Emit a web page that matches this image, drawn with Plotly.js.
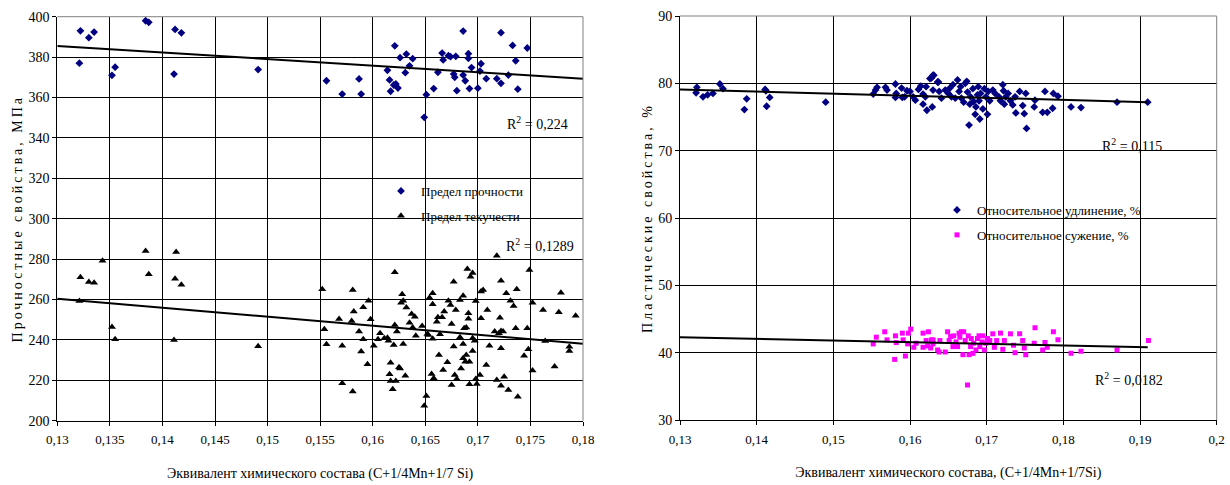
<!DOCTYPE html>
<html>
<head>
<meta charset="utf-8">
<script src="https://cdn.plot.ly/plotly-3.0.1.min.js"></script>
<style>html,body{margin:0;padding:0;background:#fff;}#chart{width:1230px;height:485px;}</style>
</head>
<body>
<div id="chart"></div>
<script>
// ---------- Left chart: strength properties ----------
const strengthX = [0.1322,0.1321,0.1330,0.1335,0.1352,0.1355,0.1384,0.1387,0.1412,0.1418,0.1411,0.1491,
0.1556,0.1571,0.1587,0.1589,0.1614,0.1621,0.1616,0.1617,0.1620,0.1622,0.1624,0.1626,0.1631,0.1632,0.1635,0.1638,
0.1649,0.1651,0.1658,0.1662,0.1666,0.1667,0.1672,0.1674,0.1679,0.1677,0.1678,0.1680,0.1686,0.1686,0.1688,0.1691,
0.1691,0.1692,0.1694,0.1700,0.1702,0.1703,0.1708,0.1718,0.1722,0.1722,0.1729,0.1733,0.1736,0.1738,0.1747];
const strengthY = [393,377,389.6,392.4,371,375,398,397.2,393.7,392,371.6,373.8,
368.3,361.7,369.2,361.7,373.5,385.6,368.7,363.1,366.2,366.7,364.7,379.7,372.3,381.5,375.7,379.2,
350.2,361.4,364.4,372.5,382,378.6,380.7,380.2,380.4,371.6,370,363.4,392.9,371.1,368.3,381.7,
379.4,364.4,374.8,364.6,373.1,376.7,369.3,369.3,392.1,367,371.1,385.8,378.2,364.1,384.5];

const yieldX = [0.1322,0.1321,0.1330,0.1335,0.1343,0.1352,0.1355,0.1384,0.1387,0.1413,0.1412,0.1418,0.1411,0.1491,
0.1552,0.1554,0.1556,0.1568,0.1571,0.1571,0.1580,0.1581,0.1582,0.1581,0.1587,0.1589,0.1591,0.1591,0.1595,0.1596,
0.1598,0.1601,0.1605,0.1607,0.1611,0.1614,0.1615,0.1616,0.1617,0.1617,0.1619,0.1620,0.1621,0.1621,0.1622,0.1623,
0.1625,0.1626,0.1627,0.1628,0.1629,0.1629,0.1631,0.1632,0.1635,0.1637,0.1638,0.1640,0.1641,0.1647,0.1649,0.1651,
0.1652,0.1653,0.1654,0.1656,0.1657,0.1657,0.1657,0.1658,0.1661,0.1662,0.1663,0.1664,0.1666,0.1667,0.1668,0.1671,
0.1672,0.1674,0.1675,0.1675,0.1677,0.1677,0.1678,0.1679,0.1680,0.1683,0.1683,0.1684,0.1686,0.1686,0.1686,0.1687,
0.1688,0.1689,0.1690,0.1689,0.1691,0.1691,0.1692,0.1692,0.1693,0.1695,0.1695,0.1695,0.1697,0.1698,0.1698,0.1699,
0.1702,0.1703,0.1703,0.1705,0.1708,0.1709,0.1711,0.1716,0.1718,0.1718,0.1720,0.1721,0.1722,0.1722,0.1722,0.1722,
0.1724,0.1725,0.1727,0.1729,0.1731,0.1734,0.1736,0.1737,0.1738,0.1744,0.1747,0.1748,0.1749,0.1752,0.1752,0.1762,
0.1764,0.1773,0.1777,0.1779,0.1787,0.1787,0.1793];
const yieldY = [271,259.3,268.7,268.3,279.2,246.4,240.3,284,272.5,283.5,270.3,267.3,240,236.9,
265.1,245.3,237.8,250.4,237.1,218.5,249.4,264.7,254,214.4,244.1,234.2,240.3,256.2,228,259.4,
250.2,237.1,240.3,243.3,240.8,241.1,239.6,223,228.7,219.7,215.6,237.5,273.5,247.4,219.7,244.1,
226.4,225.9,258.4,262.6,259.4,238,222.3,256,248.5,252.8,246.2,251.5,242.1,246.9,207.4,212.2,
242.9,242.4,260.9,223.1,263.1,257.6,240.6,221,249,251.2,232.5,242.8,251.2,225.1,254,228.9,
259.4,257.3,217.7,247.9,236.7,268.8,222.6,254.8,220.7,259.8,241.3,225.9,261.9,238,230.9,245.8,
229.2,232.5,275.1,246.2,253.2,250.5,218,229.2,271.3,273.1,240.8,234.5,239.6,220.7,259.3,218.2,
222.6,250.7,263.9,264.7,227.6,254.8,237.1,244.1,220.2,281.7,243.3,251,269.3,244.4,235.9,217.3,
244.1,221.8,263.1,215.2,259.4,256.8,245.8,265.1,211.9,232.1,245.8,235.4,274.6,258.4,224.8,254.8,
239.5,226.8,253.7,263.4,234.5,236.6,252];

// trend lines (start / end)
const strengthTrendX = [0.13, 0.18];
const strengthTrendY = [385.5, 369.3];
const yieldTrendX = [0.13, 0.18];
const yieldTrendY = [260.4, 238.1];

// ---------- Right chart: plastic properties ----------
const elongX = [0.1322,0.1321,0.1330,0.1336,0.1343,0.1352,0.1356,0.1384,0.1387,0.1411,0.1412,0.1413,0.1417,0.1490,
0.1552,0.1555,0.1557,0.1568,0.1570,0.1581,0.1581,0.1582,0.1589,0.1590,0.1593,0.1596,0.1600,0.1604,0.1607,0.1611,
0.1614,0.1617,0.1617,0.1620,0.1622,0.1621,0.1626,0.1629,0.1630,0.1630,0.1636,
0.1628,0.1631,0.1637,0.1638,0.1641,0.1646,0.1650,0.1652,0.1654,0.1656,0.1659,0.1662,0.1664,0.1666,0.1667,0.1670,
0.1672,0.1674,0.1675,0.1677,0.1678,0.1679,0.1682,0.1683,0.1685,0.1686,0.1688,0.1689,0.1690,0.1691,0.1692,0.1695,
0.1697,0.1699,0.1701,0.1702,0.1704,0.1708,0.1711,0.1716,0.1718,0.1721,0.1722,0.1723,0.1725,0.1728,0.1731,0.1734,
0.1737,0.1738,0.1743,0.1747,0.1749,0.1751,0.1752,0.1763,0.1762,0.1773,0.1776,0.1779,0.1786,0.1787,0.1793,0.1810,
0.1823,0.1870,0.1910];
const elongY = [79.4,78.6,78.0,78.3,78.5,79.9,79.2,76.1,77.7,79.1,78.9,76.6,77.9,77.2,
78.4,79.0,79.4,79.4,79.0,79.9,77.9,78.5,79.3,77.9,78.0,78.9,78.8,78.0,77.5,79.1,
79.6,76.9,78.4,78.0,76.0,79.5,80.7,76.5,81.2,79.0,80.2,
80.8,81.2,80.2,78.8,77.8,79.0,78.5,79.3,78.0,79.8,77.8,80.5,78.8,79.5,77.8,77.2,
80.0,80.3,78.7,73.8,76.9,78.0,79.2,77.3,75.4,76.5,78.3,79.5,77.4,74.7,78.5,76.2,
79.2,78.0,75.4,78.8,77.4,79.0,78.5,78.0,77.4,79.8,78.9,76.9,78.0,78.5,77.4,76.8,
78.0,75.6,78.8,76.7,75.5,78.5,73.3,77.5,76.5,75.7,78.8,75.7,76.3,78.5,78.1,76.5,
76.4,77.2,77.2];

const narrowX = [0.1552,0.1556,0.1567,0.1570,0.1580,0.1581,0.1582,0.1590,0.1591,0.1594,0.1597,0.1598,0.1601,0.1605,
0.1608,0.1617,0.1617,0.1621,0.1624,0.1623,0.1627,0.1628,0.1630,0.1636,
0.1630,0.1638,0.1639,0.1646,0.1649,0.1651,0.1653,0.1656,0.1657,0.1660,0.1662,0.1664,0.1665,0.1667,0.1669,0.1670,
0.1672,0.1675,0.1676,0.1677,0.1679,0.1680,0.1682,0.1683,0.1686,0.1688,0.1690,0.1691,0.1694,0.1695,0.1697,0.1699,
0.1701,0.1704,0.1708,0.1710,0.1713,0.1718,0.1721,0.1723,0.1731,0.1735,0.1737,0.1743,0.1747,0.1749,0.1751,0.1762,
0.1763,0.1773,0.1776,0.1779,0.1787,0.1793,0.1810,0.1823,0.1870,0.1911];
const narrowY = [41.3,42.3,43.1,41.9,39.0,42.5,41.5,42.9,41.9,39.5,41.3,42.9,43.5,40.8,
41.4,42.9,40.8,41.8,43.1,41.0,40.7,41.9,41.3,40.4,
41.9,40.1,41.8,40.1,43.1,41.8,42.4,40.9,42.5,41.6,40.9,42.9,42.3,43.1,39.7,43.1,
41.8,35.2,42.5,39.7,40.9,42.1,39.9,41.4,40.4,42.1,42.5,40.9,41.6,42.5,40.4,41.4,
42.1,41.8,42.8,40.8,41.8,42.9,40.5,41.8,42.8,41.1,40.0,42.8,41.8,40.7,39.7,41.4,
43.7,40.4,41.5,40.8,43.1,41.9,39.9,40.2,40.4,41.8];

const elongTrendX = [0.13, 0.191];
const elongTrendY = [79.1, 77.2];
const narrowTrendX = [0.13, 0.191];
const narrowTrendY = [42.3, 40.8];

const FONT = 'Liberation Serif, Times New Roman, serif';

const traces = [
  {x: strengthX, y: strengthY, type: 'scatter', mode: 'markers', name: 'Предел прочности',
   marker: {symbol: 'diamond', size: 6, color: '#000080'}, xaxis: 'x', yaxis: 'y',
   legend: 'legend', legendgroup: 'a'},
  {x: yieldX, y: yieldY, type: 'scatter', mode: 'markers', name: 'Предел текучести',
   marker: {symbol: 'triangle-up', size: 7, color: '#000000'}, xaxis: 'x', yaxis: 'y',
   legend: 'legend', legendgroup: 'b'},
  {x: strengthTrendX, y: strengthTrendY, type: 'scatter', mode: 'lines', showlegend: false,
   line: {color: '#000', width: 2}, xaxis: 'x', yaxis: 'y', hoverinfo: 'skip'},
  {x: yieldTrendX, y: yieldTrendY, type: 'scatter', mode: 'lines', showlegend: false,
   line: {color: '#000', width: 2}, xaxis: 'x', yaxis: 'y', hoverinfo: 'skip'},
  {x: elongX, y: elongY, type: 'scatter', mode: 'markers', name: 'Относительное удлинение, %',
   marker: {symbol: 'diamond', size: 6, color: '#000080'}, xaxis: 'x2', yaxis: 'y2',
   legend: 'legend2', legendgroup: 'c'},
  {x: narrowX, y: narrowY, type: 'scatter', mode: 'markers', name: 'Относительное сужение, %',
   marker: {symbol: 'square', size: 5, color: '#FF00FF'}, xaxis: 'x2', yaxis: 'y2',
   legend: 'legend2', legendgroup: 'd'},
  {x: elongTrendX, y: elongTrendY, type: 'scatter', mode: 'lines', showlegend: false,
   line: {color: '#000', width: 2}, xaxis: 'x2', yaxis: 'y2', hoverinfo: 'skip'},
  {x: narrowTrendX, y: narrowTrendY, type: 'scatter', mode: 'lines', showlegend: false,
   line: {color: '#000', width: 2}, xaxis: 'x2', yaxis: 'y2', hoverinfo: 'skip'}
];

const axisCommon = {
  showgrid: true, gridcolor: '#000', gridwidth: 1,
  showline: true, linecolor: '#000', linewidth: 1,
  ticks: 'outside', ticklen: 4, tickcolor: '#000',
  zeroline: false, mirror: false, fixedrange: true
};

const layout = {
  width: 1230, height: 485,
  margin: {l: 0, r: 0, t: 0, b: 0},
  paper_bgcolor: '#fff', plot_bgcolor: '#fff',
  separators: ', ',
  font: {family: FONT, size: 13, color: '#000'},
  showlegend: true,
  xaxis: Object.assign({}, axisCommon, {
    domain: [57.3/1230, 583/1230], range: [0.13, 0.18], dtick: 0.005, tick0: 0.13,
    tickfont: {family: FONT, size: 13}, anchor: 'y', ticklabelstandoff: 3,
    title: {text: 'Эквивалент химического состава (C+1/4Mn+1/7 Si)', font: {family: FONT, size: 14}, standoff: 21}
  }),
  yaxis: Object.assign({}, axisCommon, {
    domain: [(485-420.7)/485, (485-16.7)/485], range: [200, 400], dtick: 20,
    tickfont: {family: FONT, size: 14}, anchor: 'x',
    title: {text: 'Прочностные свойства, МПа', font: {family: FONT, size: 14}, standoff: 2}
  }),
  xaxis2: Object.assign({}, axisCommon, {
    domain: [680/1230, 1216.7/1230], range: [0.13, 0.2], dtick: 0.01, tick0: 0.13,
    tickfont: {family: FONT, size: 13}, anchor: 'y2', ticklabelstandoff: 3,
    title: {text: 'Эквивалент химического состава, (C+1/4Mn+1/7Si)', font: {family: FONT, size: 14}, standoff: 21}
  }),
  yaxis2: Object.assign({}, axisCommon, {
    domain: [(485-420)/485, (485-16)/485], range: [30, 90], dtick: 10,
    tickfont: {family: FONT, size: 14}, anchor: 'x2',
    title: {text: 'Пластические свойства, %', font: {family: FONT, size: 14}, standoff: 2}
  }),
  legend: {x: 381/1230, y: 1 - 176/485, xanchor: 'left', yanchor: 'top',
    bgcolor: 'rgba(0,0,0,0)', borderwidth: 0, font: {family: FONT, size: 13},
    traceorder: 'grouped', tracegroupgap: 5},
  legend2: {x: 937/1230, y: 1 - 195/485, xanchor: 'left', yanchor: 'top',
    bgcolor: 'rgba(0,0,0,0)', borderwidth: 0, font: {family: FONT, size: 13},
    traceorder: 'grouped', tracegroupgap: 5},
  shapes: [
    {type: 'line', xref: 'x domain', yref: 'y domain', x0: 0, x1: 1, y0: 1, y1: 1, line: {color: '#808080', width: 1}},
    {type: 'line', xref: 'x domain', yref: 'y domain', x0: 1, x1: 1, y0: 0, y1: 1, line: {color: '#808080', width: 1}},
    {type: 'line', xref: 'x2 domain', yref: 'y2 domain', x0: 0, x1: 1, y0: 1, y1: 1, line: {color: '#808080', width: 1}},
    {type: 'line', xref: 'x2 domain', yref: 'y2 domain', x0: 1, x1: 1, y0: 0, y1: 1, line: {color: '#808080', width: 1}}
  ],
  annotations: [
    {xref: 'x', yref: 'y', x: 0.1757, y: 347.4, text: 'R<sup>2</sup> = 0,224', showarrow: false, font: {family: FONT, size: 14}},
    {xref: 'x', yref: 'y', x: 0.1759, y: 287, text: 'R<sup>2</sup> = 0,1289', showarrow: false, font: {family: FONT, size: 14}},
    {xref: 'x2', yref: 'y2', x: 0.1890, y: 70.8, text: 'R<sup>2</sup> = 0,115', showarrow: false, font: {family: FONT, size: 14}},
    {xref: 'x2', yref: 'y2', x: 0.1885, y: 36.1, text: 'R<sup>2</sup> = 0,0182', showarrow: false, font: {family: FONT, size: 14}}
  ]
};

Plotly.newPlot('chart', traces, layout, {staticPlot: true, displayModeBar: false}).then(function () {
  document.querySelectorAll('.g-ytitle text, .g-y2title text').forEach(function (t) {
    t.style.letterSpacing = '3px';
  });
});
</script>
</body>
</html>
